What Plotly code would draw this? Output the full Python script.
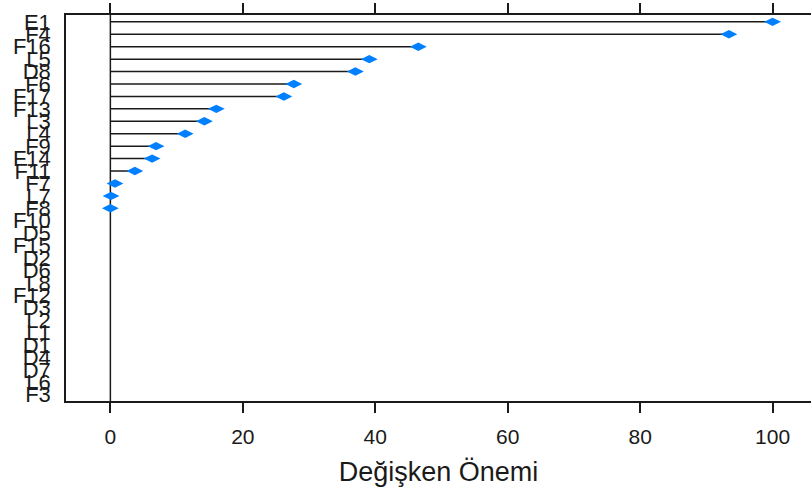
import plotly.graph_objects as go

# Variable names, ordered from most to least important
variables = ["E1", "F4", "F16", "L5", "D8", "F6", "F17", "F13", "L3", "L4",
             "F9", "F14", "F11", "F7", "L7", "F8", "F10", "D5", "F15", "D2",
             "D6", "L8", "F12", "D3", "L2", "L1", "D1", "D4", "D7", "L6", "F3"]

# Scaled importance (0-100); None where no importance was computed
importance = [100.0, 93.4, 46.5, 39.1, 37.0, 27.7, 26.2, 16.0, 14.2, 11.3,
              6.9, 6.3, 3.7, 0.7, 0.1, 0.0, None, None, None, None,
              None, None, None, None, None, None, None, None, None, None, None]

x_ticks = [0, 20, 40, 60, 80, 100]
x_title = "Değişken Önemi"

FONT = "Arial, Liberation Sans, sans-serif"
INK = "#1a1a1a"
POINT = "#0080FF"
X_RANGE = [-6.7, 105.8]

# Horizontal segments from zero to each importance value
seg_x, seg_y = [], []
for name, val in zip(variables, importance):
    if val is None:
        continue
    seg_x += [0, val, None]
    seg_y += [name, name, None]

fig = go.Figure()
fig.add_trace(go.Scatter(
    x=seg_x, y=seg_y, mode="lines",
    line=dict(color=INK, width=1.5),
    hoverinfo="skip", showlegend=False,
))
fig.add_trace(go.Scatter(
    x=importance, y=variables, mode="markers",
    marker=dict(symbol="diamond-wide", size=12, color=POINT, line=dict(width=0)),
    showlegend=False,
))
# Invisible trace that carries the top axis
fig.add_trace(go.Scatter(
    x=[0, 100], y=[variables[0], variables[0]], xaxis="x2", mode="markers",
    marker=dict(opacity=0), hoverinfo="skip", showlegend=False,
))

# Reference line at zero
fig.add_shape(type="line", xref="x", yref="paper", x0=0, x1=0, y0=0, y1=1,
              line=dict(color=INK, width=1.5), layer="below")

fig.update_layout(
    width=811, height=493,
    margin=dict(l=66, r=0, t=15, b=92),
    plot_bgcolor="white", paper_bgcolor="white",
    font=dict(family=FONT, color=INK),
    xaxis=dict(
        range=X_RANGE, tickvals=x_ticks, ticktext=[str(t) for t in x_ticks],
        ticks="outside", ticklen=10, tickwidth=1.5, tickcolor=INK,
        showline=True, linecolor=INK, linewidth=1.5, mirror=False,
        showgrid=False, zeroline=False,
        tickfont=dict(size=21, family=FONT, color=INK),
        ticklabelstandoff=6,
        title=dict(text=x_title, font=dict(size=27, family=FONT, color=INK), standoff=15),
        automargin=False,
    ),
    xaxis2=dict(
        range=X_RANGE, tickvals=x_ticks, overlaying="x", side="top",
        ticks="outside", ticklen=10, tickwidth=1.5, tickcolor=INK,
        showline=True, linecolor=INK, linewidth=1.5,
        showgrid=False, zeroline=False, showticklabels=False,
        automargin=False,
    ),
    yaxis=dict(
        type="category", categoryorder="array", categoryarray=variables,
        range=[30.5, -0.55],
        tickmode="linear", tick0=0, dtick=1,
        ticks="", showline=True, linecolor=INK, linewidth=1.5,
        showgrid=False, zeroline=False,
        tickfont=dict(size=22, family=FONT, color=INK),
        ticklabelstandoff=9,
        automargin=False,
    ),
)

fig.write_html("out.html")
